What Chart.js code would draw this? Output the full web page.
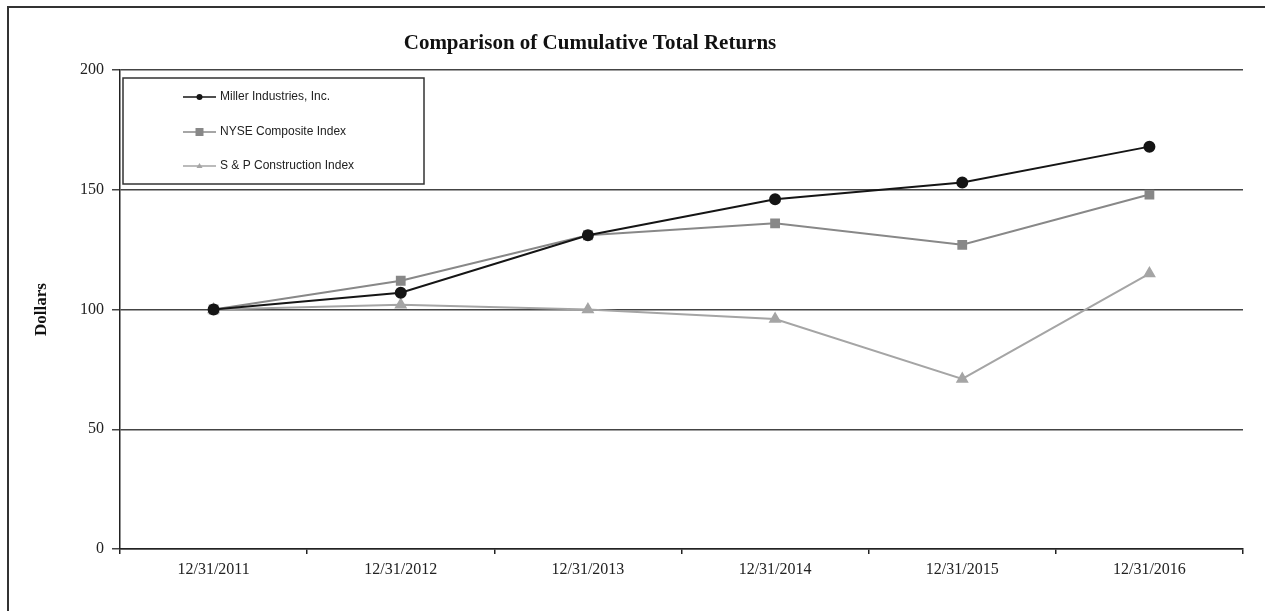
<!DOCTYPE html>
<html>
<head>
<meta charset="utf-8">
<script src="https://cdn.jsdelivr.net/npm/chart.js@4.4.1/dist/chart.umd.min.js"></script>
<style>
  html, body { margin: 0; padding: 0; background: #fff; }
  #wrap { width: 1265px; height: 611px; position: relative; }
</style>
</head>
<body>
<div id="wrap"><canvas id="chart" width="1265" height="611"></canvas></div>
<script>
const categories = ['12/31/2011', '12/31/2012', '12/31/2013', '12/31/2014', '12/31/2015', '12/31/2016'];
const millerValues = [100, 107, 131, 146, 153, 168];
const nyseValues = [100, 112, 131, 136, 127, 148];
const spValues = [100, 102, 100, 96, 71, 115];
const seriesNames = ['Miller Industries, Inc.', 'NYSE Composite Index', 'S & P Construction Index'];
const yTicks = [0, 50, 100, 150, 200];

const serif = '"Liberation Serif", "Times New Roman", serif';
const sans = '"Liberation Sans", Arial, sans-serif';

const frameAndText = {
    id: 'frameAndText',
    afterDraw: function (chart) {
        const ctx = chart.ctx;
        const area = chart.chartArea;
        ctx.save();

        // outer frame (top and left edges)
        ctx.strokeStyle = '#333';
        ctx.lineWidth = 2;
        ctx.beginPath();
        ctx.moveTo(8, 611);
        ctx.lineTo(8, 7);
        ctx.lineTo(1265, 7);
        ctx.stroke();

        // title
        ctx.fillStyle = '#111';
        ctx.font = 'bold 21px ' + serif;
        ctx.textAlign = 'center';
        ctx.textBaseline = 'middle';
        ctx.fillText('Comparison of Cumulative Total Returns', 590, 44);

        // y axis title
        ctx.save();
        ctx.translate(42, (area.top + area.bottom) / 2);
        ctx.rotate(-Math.PI / 2);
        ctx.font = 'bold 17px ' + serif;
        ctx.fillText('Dollars', 0, 0);
        ctx.restore();

        // legend box
        ctx.fillStyle = '#fff';
        ctx.fillRect(123, 78, 301, 106);
        ctx.strokeStyle = '#333';
        ctx.lineWidth = 1.5;
        ctx.strokeRect(123, 78, 301, 106);

        const rows = [97, 132, 166];
        chart.data.datasets.forEach(function (ds, i) {
            const y = rows[i];
            ctx.strokeStyle = ds.borderColor;
            ctx.lineWidth = 1.5;
            ctx.beginPath();
            ctx.moveTo(183, y);
            ctx.lineTo(216, y);
            ctx.stroke();
            ctx.fillStyle = ds.pointBackgroundColor;
            ctx.beginPath();
            if (ds.pointStyle === 'circle') {
                ctx.arc(199.5, y, 3, 0, Math.PI * 2);
            } else if (ds.pointStyle === 'rect') {
                ctx.rect(195.5, y - 4, 8, 8);
            } else {
                ctx.moveTo(199.5, y - 3);
                ctx.lineTo(202.5, y + 2);
                ctx.lineTo(196.5, y + 2);
                ctx.closePath();
            }
            ctx.fill();
            ctx.fillStyle = '#222';
            ctx.font = '12px ' + sans;
            ctx.textAlign = 'left';
            ctx.textBaseline = 'middle';
            ctx.fillText(ds.label, 220, y);
        });

        ctx.restore();
    }
};

new Chart(document.getElementById('chart'), {
    type: 'line',
    data: {
        labels: categories,
        datasets: [
            {
                label: seriesNames[0],
                data: millerValues,
                borderColor: '#151515',
                backgroundColor: '#151515',
                pointBackgroundColor: '#151515',
                pointBorderColor: '#151515',
                pointStyle: 'circle',
                pointRadius: 5,
                borderWidth: 2,
                tension: 0,
                order: 1
            },
            {
                label: seriesNames[1],
                data: nyseValues,
                borderColor: '#888888',
                backgroundColor: '#888888',
                pointBackgroundColor: '#888888',
                pointBorderColor: '#888888',
                pointStyle: 'rect',
                pointRadius: 5.5,
                borderWidth: 2,
                tension: 0,
                order: 2
            },
            {
                label: seriesNames[2],
                data: spValues,
                borderColor: '#a5a5a5',
                backgroundColor: '#a5a5a5',
                pointBackgroundColor: '#a5a5a5',
                pointBorderColor: '#a5a5a5',
                pointStyle: 'triangle',
                pointRadius: 5.5,
                borderWidth: 2,
                tension: 0,
                order: 3
            }
        ]
    },
    options: {
        responsive: false,
        animation: false,
        layout: { padding: { top: 70, right: 22, bottom: 0, left: 0 } },
        plugins: {
            legend: { display: false },
            title: { display: false },
            tooltip: { enabled: false }
        },
        scales: {
            x: {
                offset: true,
                grid: { display: true, offset: true, drawOnChartArea: false, drawTicks: true, tickLength: 5, color: '#222', lineWidth: 1.5 },
                border: { display: true, color: '#222', width: 1.5 },
                ticks: {
                    color: '#222',
                    font: { family: serif, size: 16 },
                    padding: 6,
                    maxRotation: 0,
                    autoSkip: false
                },
                afterFit: function (scale) { scale.height = 62; }
            },
            y: {
                min: 0,
                max: 200,
                afterBuildTicks: function (scale) {
                    scale.ticks = yTicks.map(function (v) { return { value: v }; });
                },
                grid: { color: '#444', lineWidth: 1.5, drawTicks: true, tickLength: 8 },
                border: { display: true, color: '#222', width: 1.5 },
                ticks: {
                    color: '#222',
                    font: { family: serif, size: 16 },
                    padding: 8
                },
                afterFit: function (scale) { scale.width = 120; }
            }
        }
    },
    plugins: [frameAndText]
});
</script>
</body>
</html>
